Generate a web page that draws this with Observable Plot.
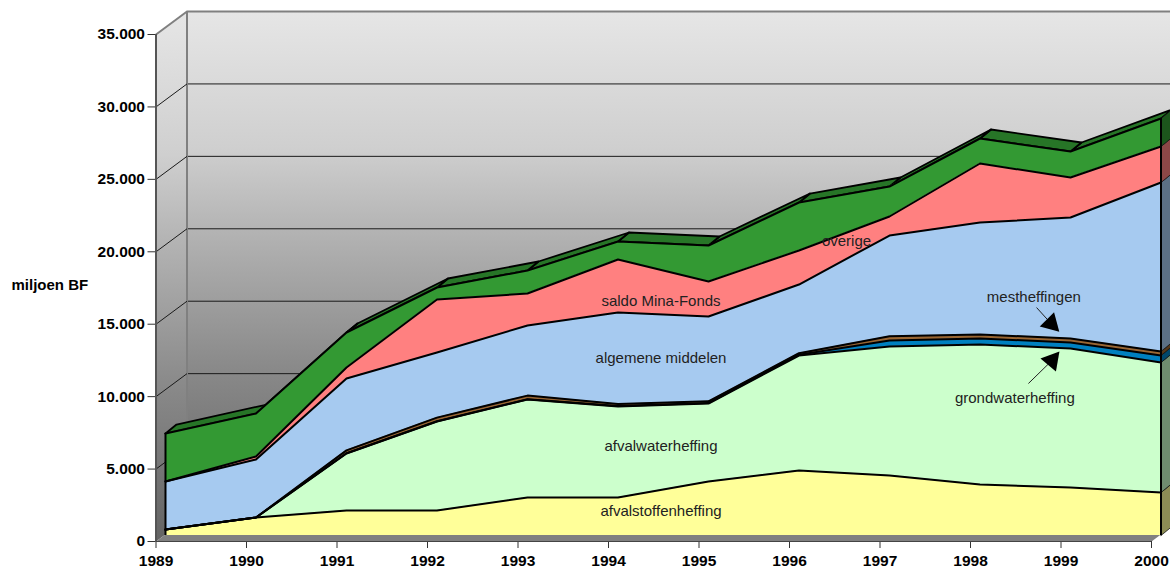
<!DOCTYPE html>
<html><head><meta charset="utf-8">
<script src="https://cdn.jsdelivr.net/npm/d3@7"></script>
<script src="https://cdn.jsdelivr.net/npm/@observablehq/plot@0.6"></script>
<style>html,body{margin:0;padding:0;background:#fff;overflow:hidden}</style>
</head><body><div id="chart"></div>
<script>
const years = [1989,1990,1991,1992,1993,1994,1995,1996,1997,1998,1999,2000];
const yTicks = [0,5000,10000,15000,20000,25000,30000,35000];
const afvalstoffen = [414,1243,1726,1726,2623,2623,3728,4487,4142,3520,3313,2968];
const afvalwater = [0,0,3934,6143,6765,6282,5384,7938,8905,9665,9596,8974];
const grondwater = [0,0,20,20,20,30,30,60,414,414,414,483];
const mest = [0,0,200,250,250,150,120,100,300,280,280,280];
const algemeen = [3314,4003,4958,4494,4839,6309,5856,4742,6948,7728,8349,11663];
const saldo = [0,207,759,3659,2209,3659,2416,2347,1312,4073,2761,2485];
const overige = [3313,2968,2416,828,1588,1243,2485,3313,2071,1726,1795,1933];

const layers = [
  {values: afvalstoffen, fill: "#ffff99", side: "#8c8c55"},
  {values: afvalwater, fill: "#ccffcc", side: "#6f8c6f"},
  {values: grondwater, fill: "#0080c0", side: "#00476a"},
  {values: mest, fill: "#996633", side: "#553819"},
  {values: algemeen, fill: "#a6caf0", side: "#5c7085"},
  {values: saldo, fill: "#ff8080", side: "#8c4747"},
  {values: overige, fill: "#339933", side: "#1c551c"}
];
const labels = [
  {t:"afvalstoffenheffing", x:1994.58, y:2071},
  {t:"afvalwaterheffing", x:1994.58, y:6558},
  {t:"algemene middelen", x:1994.58, y:12633},
  {t:"saldo Mina-Fonds", x:1994.58, y:16568},
  {t:"overige", x:1996.63, y:20709},
  {t:"mestheffingen", x:1998.7, y:16844},
  {t:"grondwaterheffing", x:1998.49, y:9871}
];
const arrows = [
  {x1:1998.73,y1:16150,x2:1998.89,y2:15049,rot:135},
  {x1:1998.64,y1:10907,x2:1998.9,y2:12494,rot:40}
];

const ml = 155.5, mr = 19, mt = 34, mb = 30, W = 1170, H = 571;
const pxX = 11 / ((W-ml-mr)/11), pxY = 5000/((H-mt-mb)/7);  // data units per px
const wallX = 31*pxX/11, wallY = 23*pxY;
const sX = pxX, sY = 9*pxY;

// cumulative boundaries
let base = years.map(() => 0);
const fronts = [], sides = [], tops = [];
layers.forEach((l, k) => {
  const top = base.map((b,i) => b + l.values[i]);
  years.forEach((yr,i) => fronts.push({k, yr, y1:base[i], y2:top[i], fill:l.fill}));
  const n = years.length-1;
  [[2000,base[n]],[2000,top[n]],[2000+sX,top[n]+sY],[2000+sX,base[n]+sY],[2000,base[n]]]
    .forEach(([x,y]) => sides.push({k, x, y, fill:l.side}));
  base = top;
});
for (let i = years.length-2; i >= 0; --i) {
  const a = [years[i],base[i]], b = [years[i+1],base[i+1]];
  [a, b, [b[0]+sX,b[1]+sY], [a[0]+sX,a[1]+sY], a].forEach(([x,y]) => tops.push({i,x,y}));
}
const leftWall = [[1989,0],[1989,35000],[1989+wallX,35000+wallY],[1989+wallX,wallY],[1989,0]].map(([x,y])=>({x,y}));
const floor = [[1989,0],[2000,0],[2000+wallX,wallY],[1989+wallX,wallY],[1989,0]].map(([x,y])=>({x,y}));
const fmt = d => d3.format(",")(d).replace(/,/g,".");
const ink = {dx:9.5, dy:-6};
const fontFamily = "Liberation Sans, Arial, sans-serif";

const defs = () => {
  const s = d3.create("svg:defs");
  const g = s.append("linearGradient").attr("id","wall").attr("x1",0).attr("x2",0).attr("y1",0).attr("y2",1);
  [[0,"#e6e6e6"],[0.27,"#cfcfcf"],[0.43,"#b4b4b4"],[0.7,"#8a8a8a"],[1,"#646464"]]
    .forEach(([o,c]) => g.append("stop").attr("offset",o).attr("stop-color",c));
  return s.node();
};

const chart = Plot.plot({
  width: W, height: H,
  marginLeft: ml, marginRight: mr, marginTop: mt, marginBottom: mb,
  style: {fontFamily, background:"#fff", overflow:"hidden"},
  x: {domain:[1989,2000], axis:null},
  y: {domain:[0,35000], axis:null},
  marks: [
    defs,
    Plot.line(leftWall, {x:"x", y:"y", fill:"url(#wall)", stroke:"none"}),
    Plot.rect([{}], {x1:()=>1989, x2:()=>2030, y1:()=>0, y2:()=>35000, dx:31, dy:-23, fill:"url(#wall)", clip:false}),
    Plot.ruleY(yTicks.filter(v=>v>0&&v<35000), {dx:31, dy:-23, x1:1989, x2:2030, stroke:"#1a1a1a", strokeWidth:1}),
    Plot.ruleY([35000], {dx:31, dy:-23, x1:1989, x2:2030, stroke:"#808080", strokeWidth:2}),
    Plot.ruleX([1989], {dx:31, dy:-23, y1:0, y2:35000, stroke:"#808080", strokeWidth:2}),
    Plot.link(yTicks.filter(v=>v>0), {x1:()=>1989, y1:d=>d, x2:()=>1989+wallX, y2:d=>d+wallY, stroke:d=>d==35000?"#808080":"#1a1a1a", strokeWidth:d=>d==35000?2:1}),
    Plot.line(floor, {x:"x", y:"y", fill:"#808080", stroke:"none"}),
    Plot.axisY(yTicks, {tickSize:8, tickPadding:3, tickFormat:fmt, fontSize:15.5, fontWeight:"bold", fill:"#000", stroke:"#333", label:null}),
    Plot.axisX(years, {tickSize:7, tickPadding:6, tickFormat:d=>String(d), fontSize:15.5, fontWeight:"bold", fill:"#000", stroke:"#333", label:null}),
    Plot.ruleX([1989], {y1:0, y2:35000, stroke:"#555", strokeWidth:2}),
    Plot.ruleY([0], {x1:1989, x2:2000, stroke:"#444", strokeWidth:1}),
    Plot.text(["miljoen BF"], {frameAnchor:"left", y:()=>17700, dx:11-ml+0, textAnchor:"start", fontSize:15, fontWeight:"bold", fill:"#000"}),
    Plot.line(tops, {x:"x", y:"y", z:"i", fill:"#277527", stroke:"#000", strokeWidth:1.8, ...ink}),
    Plot.line(sides, {x:"x", y:"y", z:"k", fill:"fill", stroke:"#111", strokeWidth:0.75, ...ink}),
    ...layers.map((l,k) => Plot.areaY(fronts.filter(d=>d.k==k), {x:"yr", y1:"y1", y2:"y2", fill:l.fill, ...ink})),
    ...layers.map((l,k) => Plot.line(fronts.filter(d=>d.k==k), {x:"yr", y:"y2", stroke:"#000", strokeWidth:2, ...ink})),
    Plot.ruleX([1989,2000], {y1:0, y2:d=>d3.max(fronts.filter(f=>f.yr==d), f=>f.y2), stroke:"#000", strokeWidth:2, ...ink}),
    Plot.text(labels, {x:"x", y:"y", text:"t", fontSize:15, fill:"#222"}),
    Plot.link(arrows, {x1:"x1", y1:"y1", x2:"x2", y2:"y2", stroke:"#222", strokeWidth:1}),
    Plot.dot(arrows, {x:"x2", y:"y2", symbol:"triangle", r:7.5, rotate:"rot", fill:"#000", stroke:"none"})
  ]
});
document.getElementById("chart").append(chart);
</script></body></html>
